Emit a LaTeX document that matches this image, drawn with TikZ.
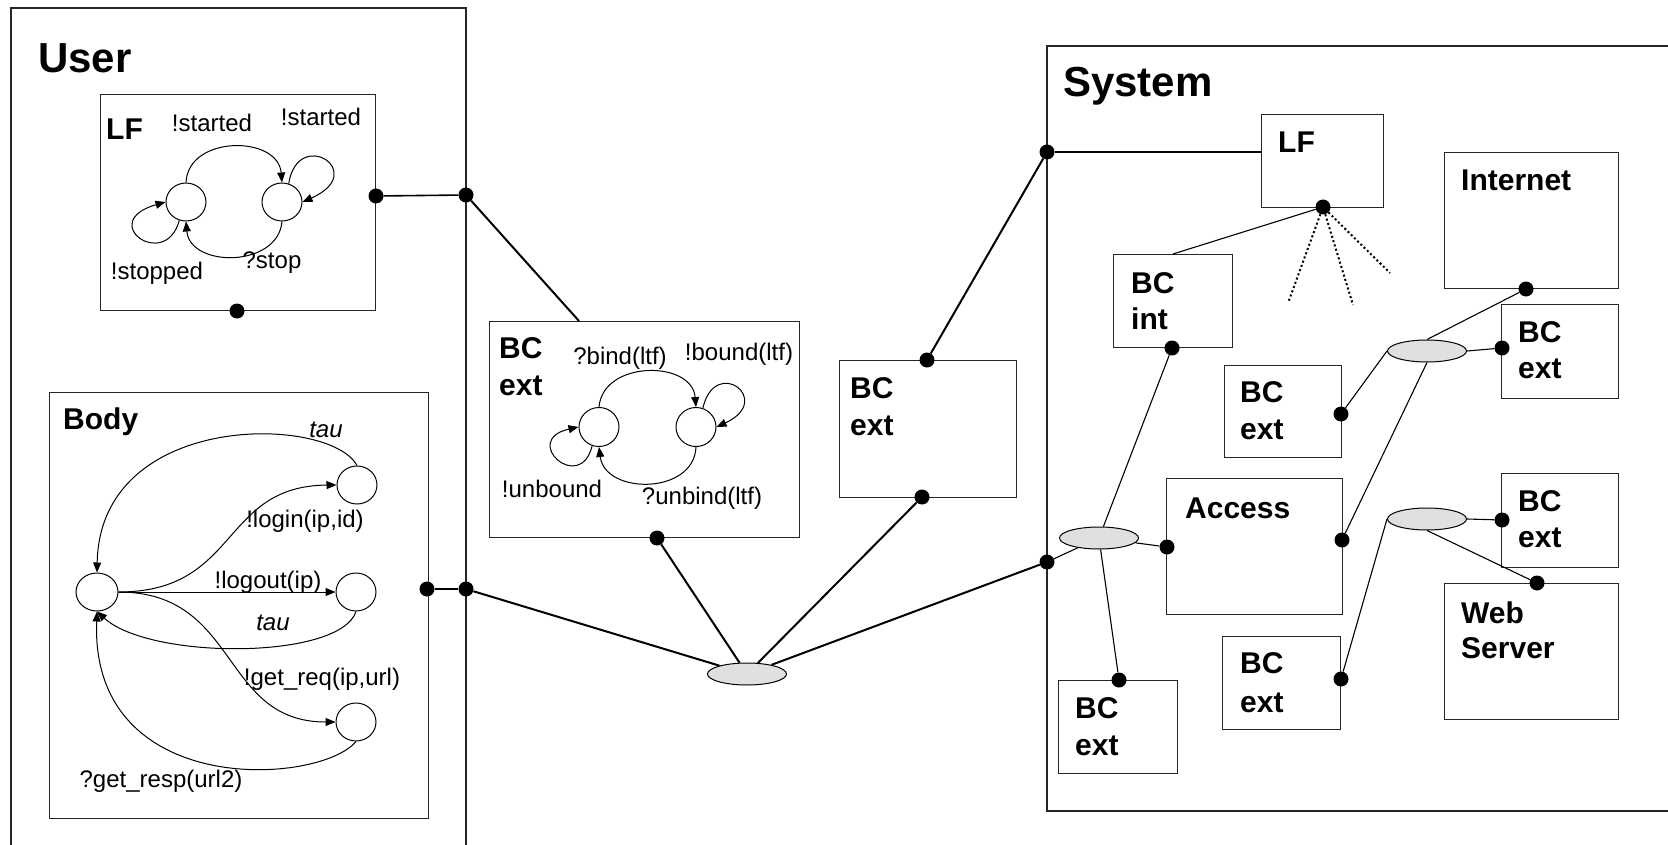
\documentclass[tikz,border=0pt]{standalone}
\usepackage{fontspec}
\setmainfont{Liberation Sans}
\usetikzlibrary{arrows.meta,shapes.geometric}
\begin{document}
\begin{tikzpicture}[x=1pt,y=-1pt,
  bx/.style={draw=black!85, line width=1.3pt, inner sep=0, anchor=north west},
  ttl/.style={font=\bfseries\fontsize{30}{30}\selectfont, anchor=base west, inner sep=0},
  bigttl/.style={font=\bfseries\fontsize{42}{42}\selectfont, anchor=base west, inner sep=0},
  lbl/.style={font=\fontsize{24}{24}\selectfont, anchor=base, inner sep=0},
  st/.style={ellipse, draw, line width=1pt, minimum width=40pt, minimum height=38pt, inner sep=0},
  arr/.style={-{Triangle[length=10pt,width=8pt]}, line width=1pt},
  dot/.style={circle, fill=black, inner sep=0, minimum size=15pt},
  ell/.style={ellipse, draw, fill=black!12, line width=1pt, minimum width=79pt, minimum height=22pt, inner sep=0},
  thick conn/.style={line width=2pt},
  thin conn/.style={line width=1.1pt},
  dotline/.style={line width=2pt, dash pattern=on 2pt off 2.5pt}
]
\useasboundingbox (0,0) rectangle (1668,845);

% containers
\draw[line width=1.3pt, draw=black!85] (11,845) -- (11,8) -- (466,8) -- (466,845);
\draw[line width=1.3pt, draw=black!85] (1668,46) -- (1047,46) -- (1047,811) -- (1668,811);
\node[bigttl] (tuser) at (38,73) {User};
\node[bigttl] (tsys) at (1063,97) {System};

% boxes
\node[bx, minimum width=275pt, minimum height=216pt] (lfu) at (100,94) {};
\node[bx, minimum width=379pt, minimum height=426pt] (body) at (49,392) {};
\node[bx, minimum width=310pt, minimum height=216pt] (bcm) at (489,321) {};
\node[bx, minimum width=177pt, minimum height=137pt] (bc2) at (839,360) {};
\node[bx, minimum width=122pt, minimum height=93pt] (lfs) at (1261,114) {};
\node[bx, minimum width=119pt, minimum height=93pt] (bcint) at (1113,254) {};
\node[bx, minimum width=174pt, minimum height=136pt] (inet) at (1444,152) {};
\node[bx, minimum width=117pt, minimum height=92pt] (bce1) at (1224,365) {};
\node[bx, minimum width=117pt, minimum height=94pt] (bcr1) at (1501,304) {};
\node[bx, minimum width=176pt, minimum height=136pt] (acc) at (1166,478) {};
\node[bx, minimum width=117pt, minimum height=94pt] (bcr2) at (1501,473) {};
\node[bx, minimum width=174pt, minimum height=136pt] (web) at (1444,583) {};
\node[bx, minimum width=118pt, minimum height=93pt] (bclm) at (1222,636) {};
\node[bx, minimum width=119pt, minimum height=93pt] (bcll) at (1058,680) {};

% titles
\node[ttl] (tlfu) at (106,140) {LF};
\node[ttl] (tbody) at (63,429) {Body};
\node[ttl] (tbcm1) at (499,358) {BC};
\node[ttl] (tbcm2) at (499,395) {ext};
\node[ttl] (tbc21) at (850,398) {BC};
\node[ttl] (tbc22) at (850,435) {ext};
\node[ttl] (tlfs) at (1278,153) {LF};
\node[ttl] (tbci1) at (1131,293) {BC};
\node[ttl] (tbci2) at (1131,329) {int};
\node[ttl] (tinet) at (1461,191) {Internet};
\node[ttl] (tbce11) at (1240,402) {BC};
\node[ttl] (tbce12) at (1240,439) {ext};
\node[ttl] (tbcr11) at (1518,342) {BC};
\node[ttl] (tbcr12) at (1518,378) {ext};
\node[ttl] (tacc) at (1185,518) {Access};
\node[ttl] (tbcr21) at (1518,511) {BC};
\node[ttl] (tbcr22) at (1518,547) {ext};
\node[ttl] (tweb1) at (1461,623) {Web};
\node[ttl] (tweb2) at (1461,658) {Server};
\node[ttl] (tbclm1) at (1240,673) {BC};
\node[ttl] (tbclm2) at (1240,712) {ext};
\node[ttl] (tbcll1) at (1075,718) {BC};
\node[ttl] (tbcll2) at (1075,755) {ext};

% ---- User LF state machine
\node[st] (u1) at (186,202) {};
\node[st] (u2) at (282,202) {};
\draw[arr] (u1.north) .. controls (188,135) and (278,135) .. (u2.north);
\draw[arr] (u2.70) .. controls (298,126) and (370,172) .. (u2.east);
\draw[arr] (u2.south) .. controls (278,268) and (190,268) .. (u1.south);
\draw[arr] (u1.250) .. controls (165,272) and (96,222) .. (u1.west);
\node[lbl] (lstart1) at (212,132) {!started};
\node[lbl] (lstart2) at (321,126) {!started};
\node[lbl] (lstop) at (157,279) {!stopped};
\node[lbl] (lqstop) at (272,269) {?stop};

% ---- Body state machine
\node[st, minimum width=42pt] (b0) at (97,592) {};
\node[st] (b1) at (357,485) {};
\node[st] (b2) at (356,592) {};
\node[st] (b3) at (356,722) {};
\draw[arr] (b1.north) .. controls (330,415) and (100,410) .. (b0.north);
\draw[arr] (b0.east) .. controls (240,592) and (220,486) .. (b1.west);
\draw[arr] (b0.east) -- (b2.west);
\draw[arr] (b2.south) .. controls (340,660) and (150,660) .. (b0.south);
\draw[arr] (b0.east) .. controls (240,592) and (220,722) .. (b3.west);
\draw[arr] (b3.south) .. controls (320,785) and (90,800) .. (b0.south);
\node[lbl] (ltau1) at (326,437) {\itshape tau};
\node[lbl] (llogin) at (305,527) {!login(ip,id)};
\node[lbl] (llogout) at (268,588) {!logout(ip)};
\node[lbl] (ltau2) at (273,630) {\itshape tau};
\node[lbl] (lgetreq) at (322,685) {!get\_req(ip,url)};
\node[lbl] (lgetresp) at (161,787) {?get\_resp(url2)};

% ---- BC ext state machine
\node[st, minimum height=39pt] (c1) at (599,427) {};
\node[st, minimum height=39pt] (c2) at (696,427) {};
\draw[arr] (c1.north) .. controls (603,360) and (692,360) .. (c2.north);
\draw[arr] (c2.70) .. controls (715,355) and (775,400) .. (c2.east);
\draw[arr] (c2.south) .. controls (694,495) and (605,495) .. (c1.south);
\draw[arr] (c1.250) .. controls (580,495) and (520,440) .. (c1.west);
\node[lbl] (lbind) at (620,364) {?bind(ltf)};
\node[lbl] (lbound) at (739,360) {!bound(ltf)};
\node[lbl] (lunbound) at (552,497) {!unbound};
\node[lbl] (lunbind) at (702,504) {?unbind(ltf)};

% ---- ellipses
\node[ell] (eC) at (747,674) {};
\node[ell] (eL) at (1099,538) {};
\node[ell] (eU) at (1427,351) {};
\node[ell] (eR) at (1427,519) {};

% ---- dots
\node[dot] (dLFu) at (376,196) {};
\node[dot] (dU1) at (466,195) {};
\node[dot] (dLFb) at (237,311) {};
\node[dot] (dBody) at (427,589) {};
\node[dot] (dU2) at (466,589) {};
\node[dot] (dBCb) at (657,538) {};
\node[dot] (dBC2t) at (927,360) {};
\node[dot] (dBC2b) at (922,497) {};
\node[dot] (dS1) at (1047,152) {};
\node[dot] (dS2) at (1047,562) {};
\node[dot] (dLFs) at (1323,207) {};
\node[dot] (dBCint) at (1172,348) {};
\node[dot] (dBCe1) at (1341,414) {};
\node[dot] (dInt) at (1526,289) {};
\node[dot] (dBCr1) at (1502,348) {};
\node[dot] (dAccL) at (1167,547) {};
\node[dot] (dAccR) at (1342,540) {};
\node[dot] (dBCll) at (1119,680) {};
\node[dot] (dBClm) at (1341,679) {};
\node[dot] (dBCr2) at (1502,520) {};
\node[dot] (dWeb) at (1537,583) {};

% free ends
\coordinate (bcmtop) at (579,321);
\coordinate (lfsin) at (1261,152);
\coordinate (bcinttop) at (1173,254);
\coordinate (dt1) at (1288,303);
\coordinate (dt2) at (1353,305);
\coordinate (dt3) at (1390,273);

% ---- connectors (outer)
\draw[thick conn, line width=1.6pt] (dLFu) -- (dU1);
\draw[thick conn] (dU1) -- (bcmtop);
\draw[thick conn, line width=1.6pt] (dBody) -- (dU2);
\draw[thick conn] (dU2) -- (eC);
\draw[thick conn] (dBCb) -- (eC);
\draw[thick conn] (dBC2b) -- (eC);
\draw[thick conn] (eC) -- (dS2);
\draw[thick conn] (dBC2t) -- (dS1);

% ---- connectors (system)
\draw[thin conn] (dS1) -- (lfsin);
\draw[thin conn] (dLFs) -- (bcinttop);
\draw[dotline] (dLFs) -- (dt1);
\draw[dotline] (dLFs) -- (dt2);
\draw[dotline] (dLFs) -- (dt3);
\draw[thin conn] (dBCint) -- (eL);
\draw[thin conn] (dS2) -- (eL);
\draw[thin conn] (eL) -- (dBCll);
\draw[thin conn] (eL) -- (dAccL);
\draw[thin conn] (dBCe1) -- (eU.west);
\draw[thin conn] (eU.north) -- (dInt);
\draw[thin conn] (eU.east) -- (dBCr1);
\draw[thin conn] (eU.south) -- (dAccR);
\draw[thin conn] (eR.west) -- (dBClm);
\draw[thin conn] (eR.east) -- (dBCr2);
\draw[thin conn] (eR.south) -- (dWeb);
\end{tikzpicture}
\end{document}
